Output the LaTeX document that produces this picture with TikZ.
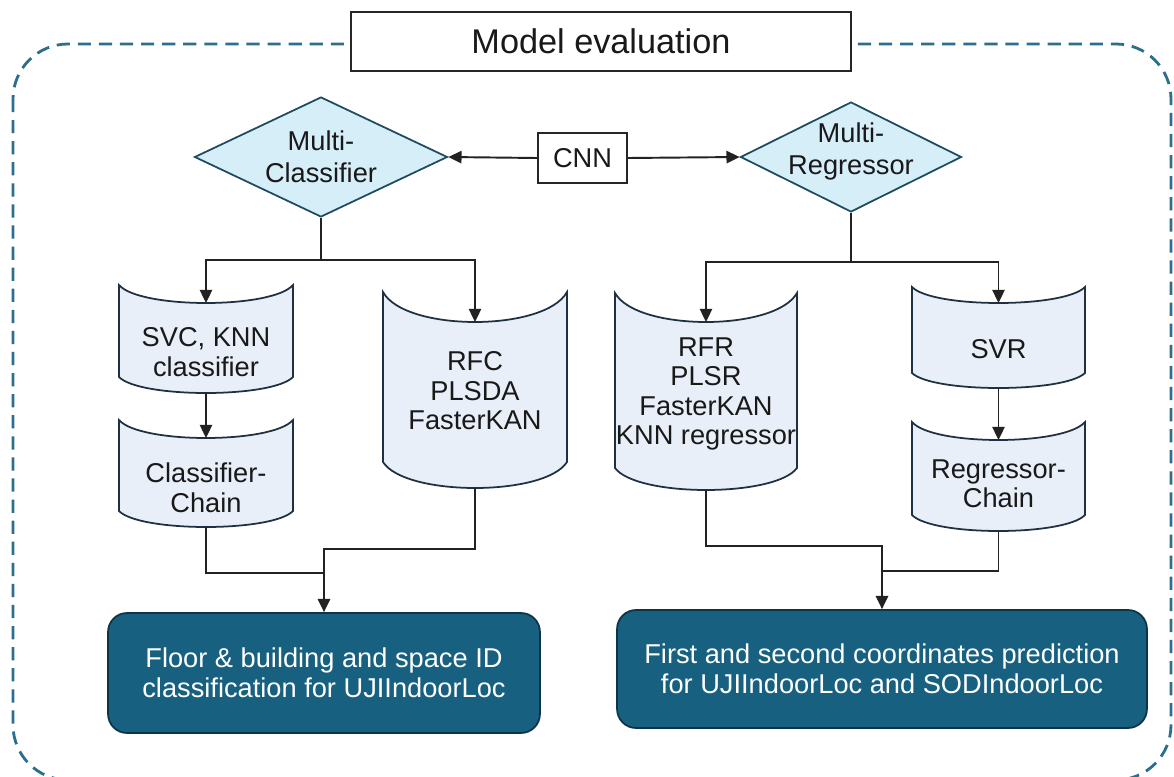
\documentclass[tikz,border=0pt]{standalone}
\usepackage{fontspec}
\setmainfont{Liberation Sans}
\usetikzlibrary{arrows.meta,shapes.geometric,calc}
\definecolor{framec}{HTML}{2C6E8E}
\definecolor{diafill}{HTML}{D6EEF8}
\definecolor{diaedge}{HTML}{1E4B5F}
\definecolor{cylfillc}{HTML}{E9EFF8}
\definecolor{cyledge}{HTML}{1F3140}
\definecolor{outfill}{HTML}{17607F}
\definecolor{outedge}{HTML}{0E3447}
\definecolor{linec}{HTML}{222222}
\newcommand\CylShape[9]{%
  \pgfmathsetmacro\cylW{#3-#2}%
  \pgfmathsetmacro\cylM{(#2+#3)/2}%
  \path[cyl] (#2,#4) .. controls ({#2+0.12*\cylW},{#4+1.333*#5}) and ({#3-0.12*\cylW},{#4+1.333*#5}) .. (#3,#4)
     -- (#3,#6) .. controls ({#3-0.12*\cylW},{#6+1.333*#7}) and ({#2+0.12*\cylW},{#6+1.333*#7}) .. (#2,#6) -- cycle;
  \coordinate (#1-in) at (\cylM,{#4+#5});
  \coordinate (#1-out) at (\cylM,{#6+#7});
  \node[cyltext] (#1) at (\cylM,#8) {#9};
}
\begin{document}
\begin{tikzpicture}[x=0.02cm,y=-0.02cm,
  every node/.style={font=\fontsize{15.5pt}{16.8pt}\selectfont, text=black!90},
  dia/.style={diamond, draw=diaedge, fill=diafill, line width=1pt, inner sep=0pt},
  dialabel/.style={align=center, font=\fontsize{15.5pt}{18pt}\selectfont, inner sep=0pt},
  plainbox/.style={draw=black!85, fill=white, line width=1.1pt, inner sep=0pt},
  outbox/.style={draw=outedge, fill=outfill, line width=1pt, rounded corners=0.38cm, text=white, align=center, inner sep=0pt},
  cyl/.style={draw=cyledge, fill=cylfillc, line width=1pt},
  cyltext/.style={align=center, inner sep=1pt},
  conn/.style={draw=linec, line width=1.1pt},
  arr/.style={conn, -{Triangle[length=7.5pt,width=7pt]}},
  frame/.style={draw=framec, line width=1.6pt, dash pattern=on 7.5pt off 4.5pt, rounded corners=1.1cm}
]
\useasboundingbox (0,0) rectangle (1174,777);
\begin{scope}
  \clip (0,0) rectangle (1174,777);
  \draw[frame] (13,44) rectangle (1171,780);
\end{scope}

% title
\node[plainbox, minimum width=10cm, minimum height=1.18cm, font=\fontsize{19.5pt}{22pt}\selectfont] (title) at (601,41.5) {Model evaluation};

% diamonds and CNN
\node[dia, minimum width=5.06cm, minimum height=2.4cm,
      label={[dialabel]center:Multi-\\Classifier}] (mc) at (321,157) {};
\node[dia, minimum width=4.42cm, minimum height=2.2cm,
      label={[dialabel, yshift=3pt]center:Multi-\\Regressor}] (mr) at (851,157) {};
\node[plainbox, minimum width=1.78cm, minimum height=1.0cm] (cnn) at (582.5,158) {CNN};

\draw[arr] (cnn.west) -- (mc.east);
\draw[arr] (cnn.east) -- (mr.west);

% model shapes
\CylShape{svc}{119}{293}{285}{18}{377}{16}{352}{SVC, KNN\\classifier}
\CylShape{cc}{119}{293}{420}{18}{511}{16}{488}{Classifier-\\Chain}
\CylShape{rfc}{383}{567}{292}{30}{462}{26}{391}{RFC\\PLSDA\\FasterKAN}
\CylShape{rfr}{615}{797}{293}{29}{468}{22}{394}{RFR\\PLSR\\FasterKAN\\KNN regressor}
\CylShape{svr}{912}{1085}{287}{16}{373}{15}{349}{SVR}
\CylShape{rc}{912}{1085}{422}{18}{515}{16}{484}{Regressor-\\Chain}

% output boxes
\node[outbox, minimum width=8.64cm, minimum height=2.4cm] (outl) at (324,673)
  {Floor \& building and space ID\\classification for UJIIndoorLoc};
\node[outbox, minimum width=10.6cm, minimum height=2.36cm] (outr) at (882,669)
  {First and second coordinates prediction\\for UJIIndoorLoc and SODIndoorLoc};

% junction coordinates
\coordinate (mcj) at (321,260);
\coordinate (mrj) at (851,262);
\coordinate (jl1) at (324,573);
\coordinate (jl2) at (324,549);
\coordinate (jr1) at (882,571);
\coordinate (jr2) at (882,546);

% classifier connectors
\draw[conn] (mc.south) -- (mcj);
\draw[arr] (mcj) -| (svc-in);
\draw[arr] (mcj) -| (rfc-in);
\draw[arr] (svc-out) -- (cc-in);
\draw[conn] (cc-out) |- (jl1);
\draw[arr] (rfc-out) |- (jl2) -- (outl.north);

% regressor connectors
\draw[conn] (mr.south) -- (mrj);
\draw[arr] (mrj) -| (rfr-in);
\draw[arr] (mrj) -| (svr-in);
\draw[arr] (svr-out) -- (rc-in);
\draw[conn] (rc-out) |- (jr1);
\draw[arr] (rfr-out) |- (jr2) -- (outr.north);
\end{tikzpicture}
\end{document}
